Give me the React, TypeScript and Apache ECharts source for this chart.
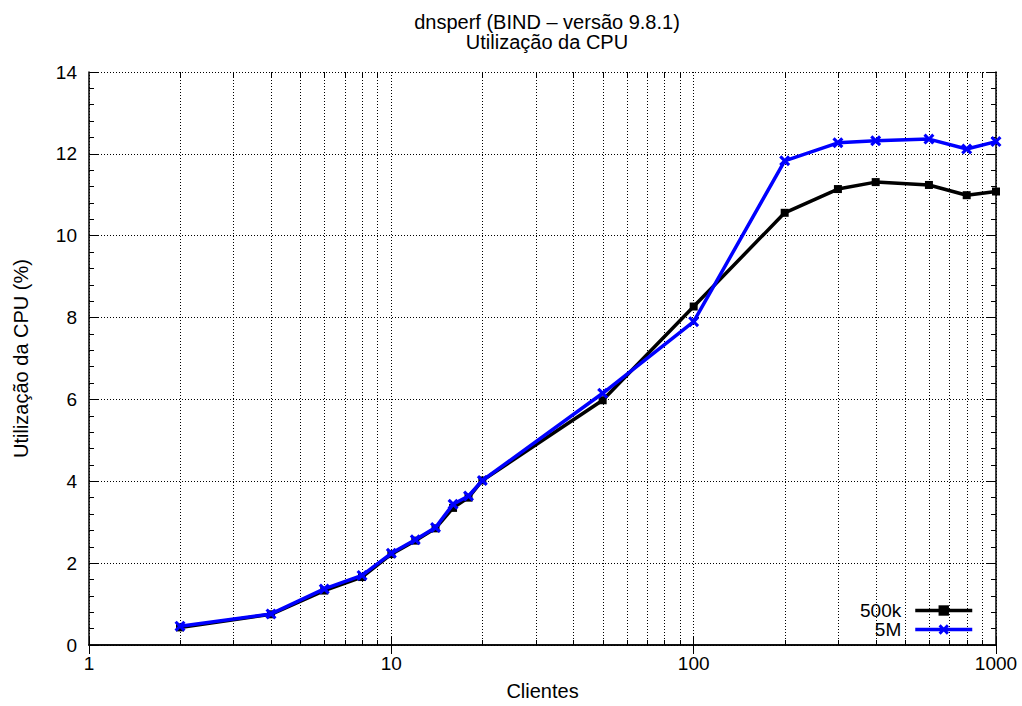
import React, { useEffect, useRef } from "react";
import * as echarts from "echarts";

const clients = [2, 4, 6, 8, 10, 12, 14, 16, 18, 20, 50, 100, 200, 300, 400, 600, 800, 1000];
const cpu500k = [0.43, 0.75, 1.33, 1.66, 2.22, 2.55, 2.85, 3.35, 3.6, 4.02, 5.98, 8.27, 10.56, 11.14, 11.31, 11.24, 10.99, 11.08];
const cpu5M = [0.46, 0.76, 1.37, 1.7, 2.24, 2.57, 2.87, 3.44, 3.64, 4.02, 6.15, 7.9, 11.83, 12.27, 12.32, 12.36, 12.12, 12.3];
const minorX = [2, 3, 4, 5, 6, 7, 8, 9, 20, 30, 40, 50, 60, 70, 80, 90, 200, 300, 400, 500, 600, 700, 800, 900];
const titleLines = ["dnsperf (BIND – versão 9.8.1)", "Utilização da CPU"];
const xName = "Clientes";
const yName = "Utilização da CPU (%)";
const seriesNames = ["500k", "5M"];

const FONT = "Liberation Sans, Arial, sans-serif";
const crossPath = "path://M2,0 L5,3 L8,0 L10,2 L7,5 L10,8 L8,10 L5,7 L2,10 L0,8 L3,5 L0,2 Z";

export default function App() {
  const ref = useRef<HTMLDivElement>(null);
  useEffect(() => {
    if (!ref.current) return;
    const chart = echarts.init(ref.current, null, { renderer: "svg" });
    const dotted = { color: "#000", width: 1, type: [1, 2] as any };
    chart.setOption({
      animation: false,
      backgroundColor: "#fff",
      textStyle: { fontFamily: FONT },
      title: {
        text: titleLines.join("\n"),
        left: 542,
        top: 7,
        textAlign: "center",
        textStyle: { fontSize: 20, fontWeight: "normal", color: "#000", lineHeight: 20, fontFamily: FONT },
      },
      legend: {
        data: seriesNames,
        orient: "vertical",
        align: "right",
        right: 43,
        top: 596,
        itemWidth: 57,
        itemHeight: 13,
        itemGap: 0,
        lineStyle: { width: 3.5 },
        textStyle: { fontSize: 19, color: "#000", fontFamily: FONT, padding: [0, 9, 0, 0] },
      },
      grid: { left: 89, top: 72, width: 907, height: 576 },
      xAxis: [
        {
          type: "log",
          logBase: 10,
          min: 1,
          max: 1000,
          name: xName,
          nameLocation: "middle",
          nameGap: 36,
          nameTextStyle: { fontSize: 20, color: "#000", fontFamily: FONT },
          axisLine: { show: true, lineStyle: { color: "#000", width: 1.5 } },
          axisTick: { show: true, inside: true, length: 9, lineStyle: { color: "#000" } },
          axisLabel: { fontSize: 19, color: "#000", margin: 9, fontFamily: FONT, formatter: (v: number) => String(v) },
          splitLine: { show: true, lineStyle: dotted },
        },
        {
          type: "log",
          logBase: 10,
          min: 1,
          max: 1000,
          position: "top",
          axisLine: { show: true, lineStyle: { color: "#000", width: 1.5 } },
          axisTick: { show: true, inside: true, length: 9, lineStyle: { color: "#000" } },
          axisLabel: { show: false },
          splitLine: { show: false },
        },
      ],
      yAxis: [
        {
          type: "value",
          min: 0,
          max: 14,
          interval: 2,
          name: yName,
          nameLocation: "middle",
          nameGap: 58,
          nameTextStyle: { fontSize: 20, color: "#000", fontFamily: FONT },
          axisLine: { show: true, lineStyle: { color: "#000", width: 1.5 } },
          axisTick: { show: true, inside: true, length: 9, lineStyle: { color: "#000" } },
          minorTick: { show: true, splitNumber: 5, length: 5, lineStyle: { color: "#000" } },
          axisLabel: { fontSize: 19, color: "#000", margin: 12, fontFamily: FONT },
          splitLine: { show: true, lineStyle: dotted },
        },
        {
          type: "value",
          min: 0,
          max: 14,
          interval: 2,
          position: "right",
          axisLine: { show: true, lineStyle: { color: "#000", width: 1.5 } },
          axisTick: { show: true, inside: true, length: 9, lineStyle: { color: "#000" } },
          minorTick: { show: true, splitNumber: 5, length: 5, lineStyle: { color: "#000" } },
          axisLabel: { show: false },
          splitLine: { show: false },
        },
      ],
      series: [
        {
          type: "custom",
          name: "minorGrid",
          silent: true,
          z: 1,
          xAxisIndex: 0,
          yAxisIndex: 0,
          data: minorX.map((v) => [v, 0]),
          renderItem: (params: any, api: any) => {
            const x = Math.round(api.coord([api.value(0), 0])[0]) + 0.5;
            const cs = params.coordSys;
            const top = cs.y;
            const bottom = cs.y + cs.height;
            return {
              type: "group",
              children: [
                { type: "line", shape: { x1: x, y1: bottom, x2: x, y2: top }, style: { stroke: "#000", lineWidth: 1, lineDash: [1, 2] } },
                { type: "line", shape: { x1: x, y1: bottom, x2: x, y2: bottom - 5 }, style: { stroke: "#000", lineWidth: 1 } },
                { type: "line", shape: { x1: x, y1: top, x2: x, y2: top + 5 }, style: { stroke: "#000", lineWidth: 1 } },
              ],
            };
          },
        },
        {
          name: seriesNames[0],
          type: "line",
          z: 3,
          data: clients.map((c, i) => [c, cpu500k[i]]),
          symbol: "rect",
          symbolSize: 8,
          showAllSymbol: true,
          lineStyle: { color: "#000", width: 3.5 },
          itemStyle: { color: "#000" },
        },
        {
          name: seriesNames[1],
          type: "line",
          z: 4,
          data: clients.map((c, i) => [c, cpu5M[i]]),
          symbol: crossPath,
          symbolSize: 11,
          showAllSymbol: true,
          lineStyle: { color: "#0000ff", width: 3.5 },
          itemStyle: { color: "#0000ff" },
        },
      ],
    });
    return () => chart.dispose();
  }, []);
  return <div ref={ref} style={{ width: 1022, height: 706, position: "absolute", left: 0, top: 0 }} />;
}
